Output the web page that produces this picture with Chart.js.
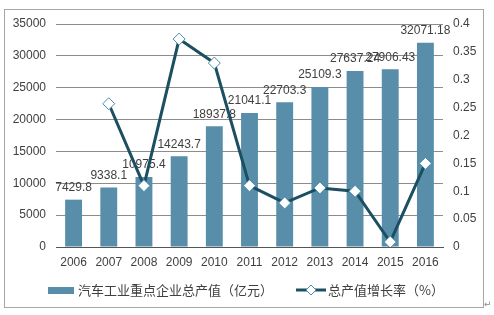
<!DOCTYPE html>
<html>
<head>
<meta charset="utf-8">
<script src="https://cdn.jsdelivr.net/npm/chart.js@4/dist/chart.umd.min.js"></script>
<style>
    html, body { margin: 0; padding: 0; background: #fff; }
    #wrap { width: 494px; height: 315px; }
</style>
</head>
<body>
<div id="wrap"><canvas id="myChart" width="494" height="315"></canvas></div>
<script>
var years = ["2006", "2007", "2008", "2009", "2010", "2011", "2012", "2013", "2014", "2015", "2016"];
var output = [7429.8, 9338.1, 10975.4, 14243.7, 18937.8, 21041.1, 22703.3, 25109.3, 27637.24, 27906.43, 32071.18];
var growth = [null, 0.257, 0.11, 0.373, 0.33, 0.11, 0.079, 0.106, 0.1, 0.009, 0.15];
var outputLabels = ["7429.8", "9338.1", "10975.4", "14243.7", "18937.8", "21041.1", "22703.3", "25109.3", "27637.24", "27906.43", "32071.18"];
var barName = "汽车工业重点企业总产值（亿元）";
var lineName = "总产值增长率（%）";

var barColor = '#588EA9';
var lineColor = '#1C4F61';
var textColor = '#404040';

// labels above the bars, drawn before the line so the line sits on top
var barLabels = {
    id: 'barLabels',
    afterDatasetDraw: function (chart, args) {
        if (args.index !== 0) return;
        var ctx = chart.ctx;
        ctx.save();
        ctx.font = '12px "Liberation Sans", Arial, sans-serif';
        ctx.fillStyle = textColor;
        ctx.textAlign = 'center';
        ctx.textBaseline = 'middle';
        args.meta.data.forEach(function (bar, i) {
            ctx.fillText(outputLabels[i], bar.x, bar.y - 12);
        });
        ctx.restore();
    }
};

// legend and outer frame
var extras = {
    id: 'extras',
    afterDraw: function (chart) {
        var ctx = chart.ctx;
        ctx.save();
        ctx.strokeStyle = '#a6a6a6';
        ctx.lineWidth = 1;
        ctx.strokeRect(4.5, 9.5, 479, 298);

        var ly = 290;
        ctx.fillStyle = barColor;
        ctx.fillRect(48, ly - 3, 26, 7);
        ctx.fillStyle = textColor;
        ctx.font = '13px "Noto Sans CJK SC", sans-serif';
        ctx.textBaseline = 'middle';
        ctx.fillText(barName, 78, ly);

        ctx.strokeStyle = lineColor;
        ctx.lineWidth = 3;
        ctx.beginPath();
        ctx.moveTo(296, ly);
        ctx.lineTo(326, ly);
        ctx.stroke();
        ctx.beginPath();
        ctx.moveTo(311, ly - 5);
        ctx.lineTo(316, ly);
        ctx.lineTo(311, ly + 5);
        ctx.lineTo(306, ly);
        ctx.closePath();
        ctx.fillStyle = '#fff';
        ctx.fill();
        ctx.strokeStyle = '#4A8CA6';
        ctx.lineWidth = 1;
        ctx.stroke();
        ctx.fillStyle = textColor;
        ctx.fillText(lineName, 328, ly);

        ctx.font = '9px "DejaVu Sans", sans-serif';
        ctx.fillStyle = '#888';
        ctx.fillText('↵', 484, 305);
        ctx.restore();
    }
};

var ctx = document.getElementById('myChart').getContext('2d');
var chart = new Chart(ctx, {
    type: 'bar',
    data: {
        labels: years,
        datasets: [{
                type: 'bar',
                label: barName,
                data: output,
                backgroundColor: barColor,
                categoryPercentage: 1,
                barPercentage: 0.48,
                yAxisID: 'y',
                order: 2
            }, {
                type: 'line',
                label: lineName,
                data: growth,
                borderColor: lineColor,
                borderWidth: 3,
                pointStyle: 'rectRot',
                pointRadius: 6,
                pointBackgroundColor: '#fff',
                pointBorderColor: '#4A8CA6',
                pointBorderWidth: 1,
                tension: 0,
                yAxisID: 'y1',
                order: 1
            }]
    },
    options: {
        responsive: false,
        animation: false,
        layout: { padding: { top: 24, bottom: 38, left: 0, right: 0 } },
        plugins: {
            legend: { display: false },
            tooltip: { enabled: false }
        },
        scales: {
            x: {
                grid: { display: false, drawTicks: false },
                border: { display: true, color: '#555' },
                ticks: {
                    color: textColor,
                    font: { family: '"Liberation Sans", Arial, sans-serif', size: 12 },
                    padding: 8
                },
                afterFit: function (s) { s.height = 30; }
            },
            y: {
                position: 'left',
                min: 0,
                max: 35000,
                grid: { color: '#8c8c8c', drawTicks: false },
                border: { display: false },
                ticks: {
                    stepSize: 5000,
                    color: textColor,
                    font: { family: '"Liberation Sans", Arial, sans-serif', size: 12 },
                    padding: 10,
                    callback: function (v) { return String(v); }
                },
                afterFit: function (s) { s.width = 56; }
            },
            y1: {
                position: 'right',
                min: 0,
                max: 0.4,
                grid: { display: false, drawTicks: false },
                border: { display: false },
                ticks: {
                    stepSize: 0.05,
                    color: textColor,
                    font: { family: '"Liberation Sans", Arial, sans-serif', size: 12 },
                    padding: 10,
                    callback: function (v) { return String(+v.toFixed(2)); }
                },
                afterFit: function (s) { s.width = 51; }
            }
        }
    },
    plugins: [barLabels, extras]
});
</script>
</body>
</html>
